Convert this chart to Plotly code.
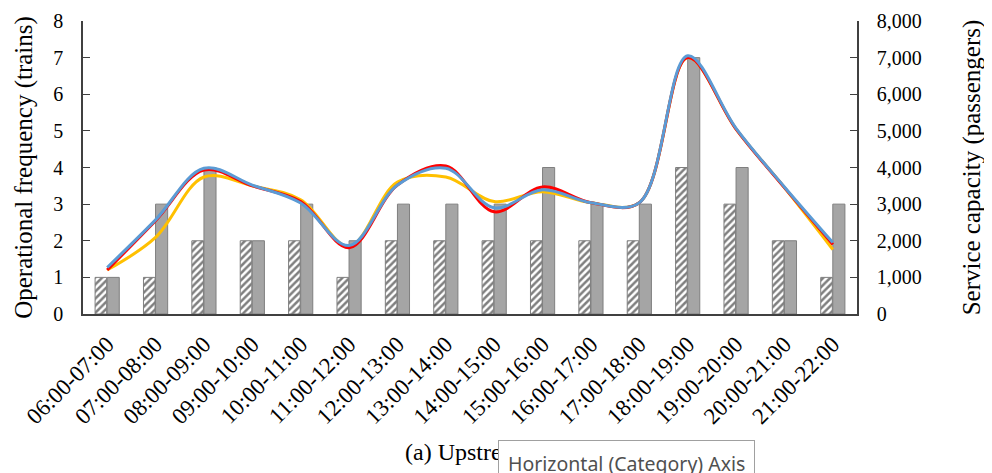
import plotly.graph_objects as go

categories = ["06:00-07:00", "07:00-08:00", "08:00-09:00", "09:00-10:00", "10:00-11:00",
              "11:00-12:00", "12:00-13:00", "13:00-14:00", "14:00-15:00", "15:00-16:00",
              "16:00-17:00", "17:00-18:00", "18:00-19:00", "19:00-20:00", "20:00-21:00",
              "21:00-22:00"]
frequency = [1, 1, 2, 2, 2, 1, 2, 2, 2, 2, 2, 2, 4, 3, 2, 1]
capacity = [1000, 3000, 4000, 2000, 3000, 2000, 3000, 3000, 3000, 4000, 3000, 3000, 7000, 4000, 2000, 3000]
line_yellow = [1200, 2090, 3740, 3500, 3120, 1850, 3600, 3740, 3070, 3340, 3040, 3040, 7000, 5050, 3450, 1760]
line_red = [1200, 2550, 3930, 3500, 3070, 1810, 3520, 4040, 2790, 3470, 3040, 3040, 7000, 5050, 3450, 1900]
line_blue = [1270, 2570, 3980, 3520, 3030, 1870, 3520, 3980, 2900, 3390, 3040, 3040, 7050, 5070, 3470, 1950]

FONT = "Liberation Serif"
AX = "#404040"

fig = go.Figure()
fig.add_trace(go.Bar(x=categories, y=frequency, yaxis="y", width=0.24, offset=-0.25,
                     marker=dict(color="white", line=dict(color="#7f7f7f", width=1),
                                 pattern=dict(shape="/", fgcolor="black", bgcolor="white",
                                              size=5, solidity=0.5)),
                     showlegend=False))
fig.add_trace(go.Bar(x=categories, y=capacity, yaxis="y2", width=0.25, offset=0.0,
                     marker=dict(color="#a5a5a5", line=dict(color="#7f7f7f", width=1)),
                     showlegend=False))
for vals, col in [(line_yellow, "#FFC000"), (line_red, "#FF0000"), (line_blue, "#5B9BD5")]:
    fig.add_trace(go.Scatter(x=categories, y=vals, yaxis="y2", mode="lines",
                             line=dict(color=col, width=3, shape="spline", smoothing=1.0),
                             showlegend=False))

fig.update_layout(
    width=984, height=465,
    margin=dict(l=75, r=135, t=13, b=159),
    paper_bgcolor="white", plot_bgcolor="white",
    font=dict(family=FONT, color="black"),
    barmode="overlay",
    xaxis=dict(type="category", tickangle=-45, tickfont=dict(size=23, family=FONT),
               showline=True, linecolor=AX, linewidth=1.5, ticks="", ticklabelstandoff=6,
               showgrid=False, automargin=False),
    yaxis=dict(range=[0, 8], dtick=1, tickfont=dict(size=20, family=FONT),
               title=dict(text="Operational frequency (trains)", font=dict(size=25, family=FONT), standoff=14),
               showline=True, linecolor=AX, linewidth=1.5, ticks="inside", ticklen=7,
               tickcolor=AX, ticklabelstandoff=14, showgrid=False, zeroline=False, automargin=False),
    yaxis2=dict(range=[0, 8000], dtick=1000, tickformat=",", overlaying="y", side="right",
                tickfont=dict(size=20, family=FONT),
                title=dict(text="Service capacity (passengers)", font=dict(size=25, family=FONT), standoff=42),
                showline=True, linecolor=AX, linewidth=1.5, ticks="inside", ticklen=7,
                tickcolor=AX, ticklabelstandoff=14, showgrid=False, zeroline=False, automargin=False),
    annotations=[
        dict(text="(a) Upstream", xref="paper", yref="paper", x=(403 - 83) / 774, y=(314 - 452) / 293,
             xanchor="left", yanchor="middle", showarrow=False,
             font=dict(size=24, family=FONT, color="black")),
        dict(text="Horizontal (Category) Axis", xref="paper", yref="paper", x=(498 - 83) / 774,
             y=(314 - 440) / 293, xanchor="left", yanchor="top", showarrow=False, bgcolor="white",
             bordercolor="#a0a0a0", borderwidth=1, borderpad=9,
             font=dict(size=19.5, family="Noto Sans", color="#505050")),
    ],
)

fig.write_html("out.html")
